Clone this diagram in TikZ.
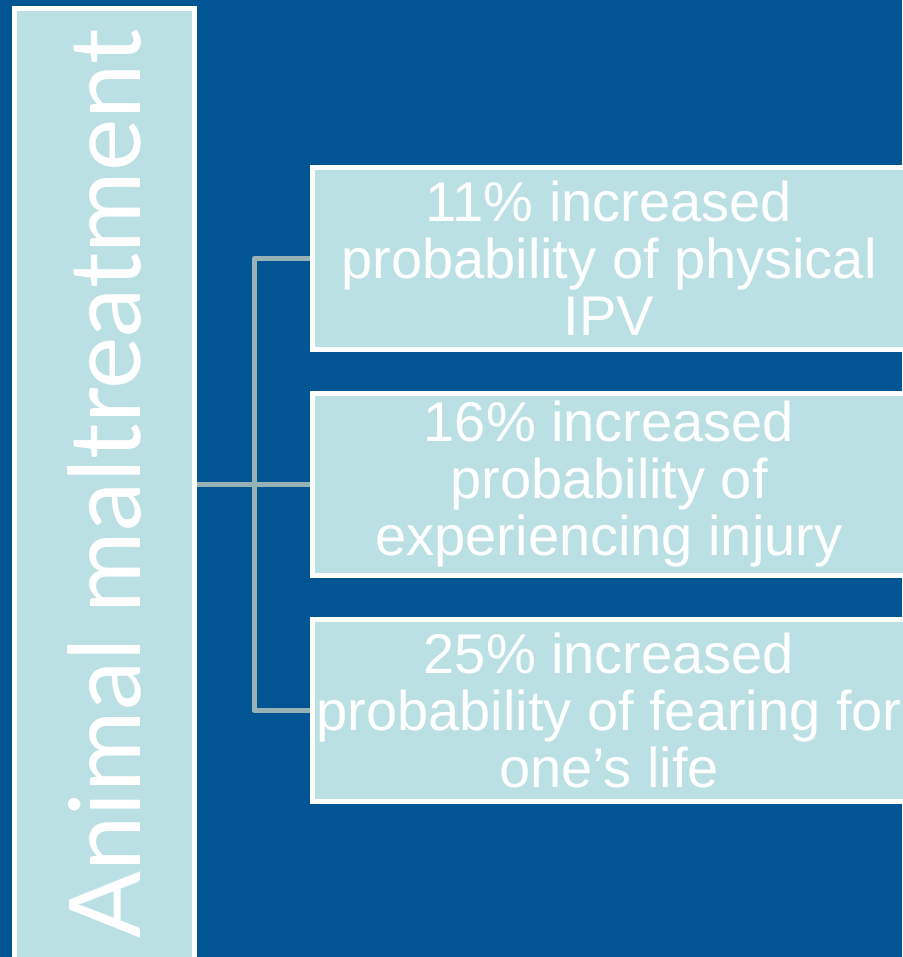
\documentclass[tikz,border=0pt]{standalone}
\usepackage{fontspec}
\setmainfont{Liberation Sans}
\newfontfamily\spinefont{Lato}
\usetikzlibrary{positioning}

\definecolor{deepblue}{HTML}{005592}
\definecolor{paleteal}{HTML}{BBE0E3}
\definecolor{linkgray}{HTML}{97B2B5}

\begin{document}
\begin{tikzpicture}[x=1pt, y=-1pt,
    factor/.style={draw=white, line width=5pt, fill=paleteal, text=white,
      inner sep=0pt, minimum width=594pt, minimum height=182pt, align=center,
      font=\fontsize{56}{57}\selectfont},
    spine/.style={draw=white, line width=4.5pt, fill=paleteal, text=white,
      inner sep=0pt, minimum width=951pt, minimum height=180pt,
      font=\spinefont\fontsize{99}{110}\selectfont},
    link/.style={draw=linkgray, line width=5pt, line join=round}]
  \useasboundingbox (0,0) rectangle (902,957);
  \fill[deepblue] (0,0) rectangle (902,957);

  % tree lines first, boxes on top
  \node[spine, rotate=90] (animal) at (104.5,484) {Animal maltreatment};
  \node[factor] (ipv) at (609,258.5) {11\% increased\\probability of physical\\IPV};
  \node[factor, below=39pt of ipv] (injury) {16\% increased\\probability of\\experiencing injury};
  \node[factor, below=39pt of injury] (fear) {25\% increased\\probability of fearing for\\one’s life};

  \coordinate (fork) at (254,484);
  \draw[link] (animal.south) -- (animal.south -| injury.west);
  \draw[link] (ipv.west) -| (fork |- fear.west) -- (fear.west);
\end{tikzpicture}
\end{document}
